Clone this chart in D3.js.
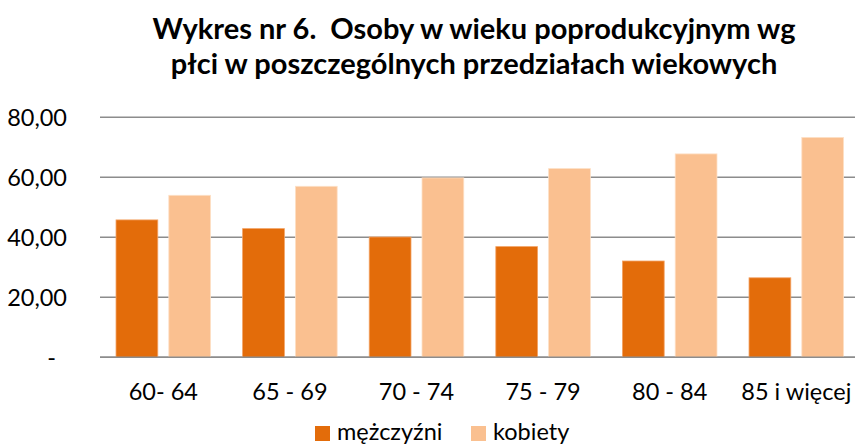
<!DOCTYPE html>
<html><head><meta charset="utf-8">
<script src="https://cdn.jsdelivr.net/npm/d3@7"></script>
<style>
html,body{margin:0;padding:0;background:#fff;overflow:hidden}
text{font-family:Lato,"Open Sans",sans-serif;fill:#000}
</style></head>
<body>
<svg id="c" width="855" height="445"></svg>
<script>
const categories = ["60- 64","65 - 69","70 - 74","75 - 79","80 - 84","85 i więcej"];
const men = [45.8, 42.9, 40.1, 36.9, 32.1, 26.5];
const women = [54.0, 57.0, 59.8, 62.9, 67.8, 73.3];
const seriesNames = ["mężczyźni","kobiety"];
const yTicks = [0,20,40,60,80];
const titleLines = ["Wykres nr 6.  Osoby w wieku poprodukcyjnym wg","płci w poszczególnych przedziałach wiekowych"];

const colors = ["#E36C0A","#FAC090"];
const svg = d3.select("#c");
const mLeft = 100, mRight = 859.6, mTop = 117.3, mBottom = 357.3;

const x = d3.scaleBand().domain(categories).range([mLeft,mRight]).paddingInner(0).paddingOuter(0);
const y = d3.scaleLinear().domain([0,80]).range([mBottom,mTop]);

// title
svg.append("g").selectAll("text").data(titleLines).join("text")
  .attr("x",474).attr("y",(d,i)=>39+i*35)
  .attr("text-anchor","middle").style("font-weight","bold").style("font-size","29px")
  .style("white-space","pre")
  .text(d=>d);

// gridlines
svg.append("g").selectAll("line").data(yTicks).join("line")
  .attr("x1",mLeft).attr("x2",mRight).attr("y1",d=>y(d)).attr("y2",d=>y(d))
  .attr("stroke","#8c8c8c").attr("stroke-width",1.5);

// y labels
const fmt = d => d===0 ? "-" : d3.format(".2f")(d).replace(".",",");
svg.append("g").selectAll("text").data(yTicks).join("text")
  .attr("x",d=>d===0?56:67).attr("y",d=>y(d)).attr("dy","0.35em")
  .attr("text-anchor","end").style("font-size","23.5px")
  .text(fmt);

// bars
const bw = x.bandwidth();
const barW = bw*0.33, gap = bw*0.087, off = (bw - 2*barW - gap)/2;
const sub = d3.scaleOrdinal().domain([0,1]).range([off, off+barW+gap]);
[men,women].forEach((vals,si)=>{
  svg.append("g").selectAll("rect").data(vals).join("rect")
    .attr("x",(d,i)=>x(categories[i])+sub(si))
    .attr("y",d=>y(d)).attr("width",barW).attr("height",d=>y(0)-y(d))
    .attr("fill",colors[si]).attr("stroke", si===0?"#f3a366":"#fde0c6").attr("stroke-width",0.8);
});

// baseline redraw
svg.append("line").attr("x1",mLeft).attr("x2",mRight).attr("y1",y(0)).attr("y2",y(0))
  .attr("stroke","#8c8c8c").attr("stroke-width",1.5);

// x labels
svg.append("g").selectAll("text").data(categories).join("text")
  .attr("x",d=>x(d)+bw/2).attr("y",400)
  .attr("text-anchor","middle").style("font-size","23.5px").text(d=>d);

// legend
const lg = svg.append("g");
const lx = [315, 471];
seriesNames.forEach((n,i)=>{
  lg.append("rect").attr("x",lx[i]).attr("y",426).attr("width",15).attr("height",15).attr("fill",colors[i]);
  lg.append("text").attr("x",lx[i]+22).attr("y",440).style("font-size","23.5px").text(n);
});
</script>
</body></html>
